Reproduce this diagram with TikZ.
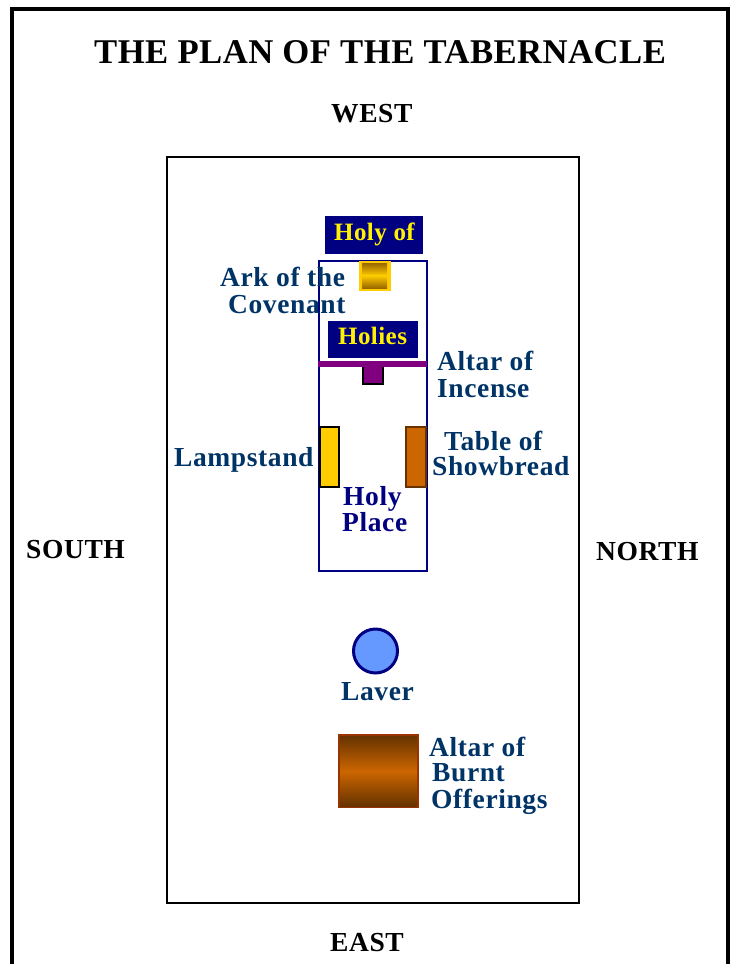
\documentclass[tikz,border=0pt]{standalone}
\usepackage{fontspec}
\setmainfont{Liberation Serif}
\newfontfamily\lblfont{Liberation Serif}[LetterSpace=2.2]
\newfontfamily\platefont{Liberation Serif}[LetterSpace=1.7]
\newfontfamily\capfont{Liberation Serif}[LetterSpace=1.3]
\definecolor{navyb}{HTML}{000080}
\definecolor{lbl}{HTML}{003366}
\definecolor{gold}{HTML}{FFCC00}
\definecolor{dgold}{HTML}{996600}
\definecolor{brn}{HTML}{CC6600}
\definecolor{dbrn}{HTML}{663300}
\definecolor{rust}{HTML}{993300}
\definecolor{pur}{HTML}{800080}
\definecolor{lav}{HTML}{6699FF}
\tikzset{
  x=1pt,y=-1pt,
  txt/.style={font=\lblfont\bfseries\fontsize{27.5}{27.5}\selectfont,inner sep=0pt,anchor=base west},
  label/.style={txt,text=lbl},
  comp/.style={txt,text=black},
  plate/.style={txt,text=yellow,font=\platefont\bfseries\fontsize{25}{25}\selectfont},
  holyp/.style={txt,text=navyb},
}
\begin{document}
\begin{tikzpicture}
\useasboundingbox (0,0) rectangle (729,964);
\draw[line width=4pt] (12,964) -- (12,9) -- (727.5,9) -- (727.5,964);
\draw[line width=2pt] (166.5,156.5) rectangle (579,903);
\draw[navyb,line width=2pt] (318.5,260.5) rectangle (427,571);
\fill[navyb] (325,216) rectangle (423,254);
\fill[navyb] (328,321) rectangle (418,358);
\fill[gold] (358.5,261) rectangle (391,291);
\shade[top color=dgold,bottom color=gold] (362,263) rectangle (387,275.7);
\shade[top color=gold,bottom color=dgold] (362,275.5) rectangle (387,288);
\fill[pur] (318,361) rectangle (427,367);
\draw[black,fill=pur,line width=2pt] (363,367) -- (363,384) -- (383,384) -- (383,367);
\draw[black,fill=gold,line width=2pt] (320,427) rectangle (339,487);
\draw[dbrn,fill=brn,line width=2pt] (406,427) rectangle (426,487);
\draw[navyb,fill=lav,line width=3pt] (375.5,651) circle (22);
\fill[rust] (338,734) rectangle (419,808);
\shade[top color=dbrn,bottom color=brn] (340,736) rectangle (417,771.2);
\shade[top color=brn,bottom color=dbrn] (340,771) rectangle (417,806);

\node[comp,font=\capfont\bfseries\fontsize{34.7}{34.7}\selectfont] (title) at (94,63) {THE PLAN OF THE TABERNACLE};
\node[comp] (west) at (331,122) {WEST};
\node[comp] (south) at (26,558) {SOUTH};
\node[comp] (north) at (596,560) {NORTH};
\node[comp] (east) at (330,951) {EAST};
\node[plate] (holyof) at (334,240) {Holy of};
\node[plate] (holies) at (338,344) {Holies};
\node[label] (ark1) at (220,286) {Ark of the};
\node[label] (ark2) at (228,313) {Covenant};
\node[label] (inc1) at (437,370) {Altar of};
\node[label] (inc2) at (437,397) {Incense};
\node[label] (lamp) at (174,466) {Lampstand};
\node[label] (tab1) at (444,450) {Table of};
\node[label] (tab2) at (432,475) {Showbread};
\node[holyp] (hp1) at (343,505) {Holy};
\node[holyp] (hp2) at (342,531) {Place};
\node[label] (laver) at (341,700) {Laver};
\node[label] (bo1) at (429,756) {Altar of};
\node[label] (bo2) at (432,781) {Burnt};
\node[label] (bo3) at (431,808) {Offerings};
\end{tikzpicture}
\end{document}
